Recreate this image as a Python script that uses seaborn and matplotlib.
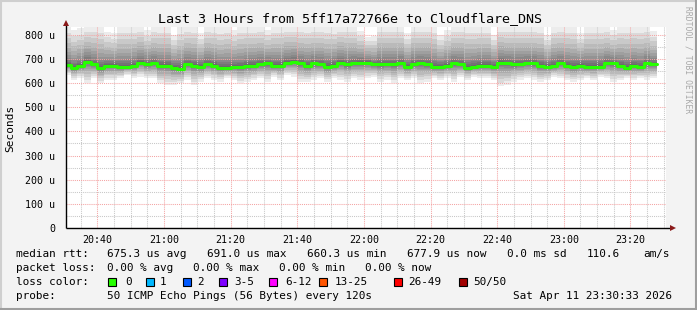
import numpy as np
import pandas as pd
import matplotlib
matplotlib.use("Agg")
import matplotlib.pyplot as plt
from matplotlib.lines import Line2D
from matplotlib.patches import Rectangle
import seaborn as sns

# ---------------- data ----------------
# step start times, minutes after 20:00 (2-minute steps, 20:30 .. 23:26)
step_minutes = list(range(30, 208, 2))

median_us = [
    675, 664, 672, 689, 677, 664, 672, 672, 668, 668, 671, 685, 677, 681, 672,
    672, 664, 660, 677, 672, 668, 677, 672, 664, 664, 667, 667, 672, 672, 677,
    681, 672, 672, 685, 689, 681, 672, 681, 677, 668, 672, 685, 677, 681, 685,
    685, 677, 677, 677, 677, 681, 668, 677, 681, 677, 668, 668, 672, 681, 677,
    664, 668, 672, 672, 668, 685, 681, 677, 677, 681, 681, 672, 668, 672, 681,
    672, 668, 672, 668, 668, 668, 681, 681, 672, 664, 672, 668, 681, 677,
]

smoke_max_us = [
    835, 820, 826, 835, 835, 835, 813, 806, 835, 835, 835, 835, 820, 835, 835,
    835, 800, 830, 835, 835, 806, 835,
    835, 830, 835, 820, 835, 835, 835, 835, 820, 835, 835, 835, 835, 835, 835,
    835, 835, 835, 830, 835, 835,
    835, 815, 790, 795, 835, 835, 835, 835, 806, 835, 835, 835, 835, 800, 820,
    835, 835, 835, 835, 835,
    835, 800, 835, 835, 835, 835, 835, 835, 835, 800, 835, 835, 835, 835, 806,
    835, 835, 835, 835, 820, 835, 835, 835, 835, 835, 815,
]

smoke_min_us = [
    633, 613, 620, 599, 620, 599, 613, 613, 620, 633, 620, 626, 620, 620, 599,
    592, 592, 599, 613, 592, 606, 620,
    613, 606, 620, 613, 599, 606, 613, 620, 606, 626, 613, 633, 626, 606, 606,
    613, 620, 606, 620, 613, 606,
    620, 613, 620, 626, 606, 613, 599, 620, 613, 620, 599, 606, 620, 613, 620,
    606, 626, 613, 626, 620,
    620, 613, 586, 592, 606, 613, 620, 613, 606, 613, 626, 620, 613, 606, 613,
    620, 613, 626, 620, 606, 613, 620, 613, 620, 613, 620,
]

y_tick_values = [0, 100, 200, 300, 400, 500, 600, 700, 800]
y_tick_labels = ["0", "100 u", "200 u", "300 u", "400 u", "500 u", "600 u", "700 u", "800 u"]
x_tick_values = [40, 60, 80, 100, 120, 140, 160, 180, 200]
x_tick_labels = ["20:40", "21:00", "21:20", "21:40", "22:00", "22:20", "22:40", "23:00", "23:20"]

title = "Last 3 Hours from 5ff17a72766e to Cloudflare_DNS"
loss_labels = ["0", "1", "2", "3-5", "6-12", "13-25", "26-49", "50/50"]
loss_colors = ["#26ff00", "#00b8ff", "#0059ff", "#7e00ff", "#ff00ff", "#ff5500", "#ff0000", "#a10000"]

# ---------------- styling ----------------
sns.set_theme(style="white")
plt.rcParams["font.family"] = ["DejaVu Sans Mono"]
plt.rcParams["font.monospace"] = ["DejaVu Sans Mono"]

W, H = 697, 310
BG = "#f3f3f3"
fig = plt.figure(figsize=(W / 100, H / 100), dpi=100, facecolor=BG)

L, R, T, B = 66.0, 665.6, 27.0, 228.0
ax = fig.add_axes([L / W, 1 - B / H, (R - L) / W, (B - T) / H])
ax.set_facecolor("white")

df = pd.DataFrame({"t": step_minutes, "median": median_us,
                   "lo": smoke_min_us, "hi": smoke_max_us})
edges = np.append(df["t"].values, df["t"].values[-1] + 2)
med_e = np.append(df["median"].values, df["median"].values[-1])
lo_e = np.append(df["lo"].values, df["lo"].values[-1])
hi_e = np.append(df["hi"].values, df["hi"].values[-1])

# smoke: layered translucent gray bands between median and extremes
n_layers = 14
for k in range(1, n_layers + 1):
    f = (k / n_layers) ** 2.4
    ax.fill_between(edges, med_e - (med_e - lo_e) * f, med_e + (hi_e - med_e) * f,
                    step="post", color="black", alpha=0.075, linewidth=0, zorder=1)

# median line
med_df = pd.DataFrame({"t": edges, "median": med_e})
sns.lineplot(data=med_df, x="t", y="median", drawstyle="steps-post",
             color="#26ff00", linewidth=2.2, ax=ax, zorder=4, legend=False)

ax.set_xlim(30.55, 210.55)
ax.set_ylim(0, 832)

# grid
ax.set_xticks(x_tick_values)
ax.set_xticklabels(x_tick_labels)
ax.set_xticks(list(range(35, 211, 5)), minor=True)
ax.set_yticks(y_tick_values)
ax.set_yticklabels(y_tick_labels)
ax.set_yticks(list(range(50, 832, 100)), minor=True)
ax.set_axisbelow(False)
ax.grid(which="minor", color="#c8c8c8", linestyle=(0, (1, 1)), linewidth=0.75, zorder=2)
ax.grid(which="major", color="#f4a4a4", linestyle=(0, (1, 1)), linewidth=0.75, zorder=3)

ax.tick_params(axis="x", which="both", length=0, pad=5, labelsize=7.2, colors="black")
ax.tick_params(axis="y", which="major", length=3, width=0.75, color="#404040",
               pad=5, labelsize=7.2, labelcolor="black")
ax.tick_params(axis="y", which="minor", length=3, width=0.75, color="#b0b0b0")
ax.set_xlabel("")
ax.set_ylabel("")
for s in ax.spines.values():
    s.set_visible(False)

# axis lines with arrow heads
ax.plot([0, 1.01], [0, 0], transform=ax.transAxes, color="black", lw=1.0,
        clip_on=False, zorder=6, solid_capstyle="butt")
ax.plot([0, 0], [0, 1.02], transform=ax.transAxes, color="black", lw=1.0,
        clip_on=False, zorder=6, solid_capstyle="butt")
ax.plot([1.012], [0], transform=ax.transAxes, marker=">", markersize=4.2,
        color="#8b1a1a", clip_on=False, zorder=7, markeredgewidth=0)
ax.plot([0], [1.022], transform=ax.transAxes, marker="^", markersize=4.2,
        color="#8b1a1a", clip_on=False, zorder=7, markeredgewidth=0)

# ---------------- texts ----------------
def px(x, y):
    return x / W, 1 - y / H

fig.text(*px(350, 19), title, ha="center", va="center", fontsize=9.6, color="black")
fig.text(*px(10, 128), "Seconds", ha="center", va="center", rotation=90, fontsize=8, color="black")
fig.text(*px(688, 60), "RRDTOOL / TOBI OETIKER", ha="center", va="center",
         rotation=-90, fontsize=5.8, color="#a8a8a8")

fs = 7.9
rows = [
    (254.3, [(16, "median rtt:"), (107, "675.3 us avg"), (207, "691.0 us max"),
             (307, "660.3 us min"), (407, "677.9 us now"), (507, "0.0 ms sd"),
             (587, "110.6"), (643, "am/s")]),
    (268.3, [(16, "packet loss:"), (107, "0.00 % avg"), (193, "0.00 % max"),
             (279, "0.00 % min"), (365, "0.00 % now")]),
    (295.7, [(16, "probe:"), (107, "50 ICMP Echo Pings (56 Bytes) every 120s"),
             (513, "Sat Apr 11 23:30:33 2026")]),
]
for y, items in rows:
    for x, s in items:
        fig.text(*px(x, y), s, ha="left", va="center", fontsize=fs, color="black")

y3 = 282.3
fig.text(*px(16, y3), "loss color:", ha="left", va="center", fontsize=fs, color="black")
box_x = [108, 146, 183, 219, 269, 319, 394, 459]
lab_x = [125, 160, 197, 234, 285, 335, 408, 473]
for bx, lx, c, lab in zip(box_x, lab_x, loss_colors, loss_labels):
    fig.add_artist(Rectangle((bx / W, 1 - (y3 + 4) / H), 8 / W, 8 / H,
                             transform=fig.transFigure, facecolor=c,
                             edgecolor="black", linewidth=0.8))
    fig.text(*px(lx, y3), lab, ha="left", va="center", fontsize=fs, color="black")

# frame around the image
fig.add_artist(Line2D([0, 1], [1 - 1 / H, 1 - 1 / H], transform=fig.transFigure, color="#cfcfcf", lw=1.5))
fig.add_artist(Line2D([1 / W, 1 / W], [0, 1], transform=fig.transFigure, color="#cfcfcf", lw=1.5))
fig.add_artist(Line2D([0, 1], [1 / H, 1 / H], transform=fig.transFigure, color="#9e9e9e", lw=1.5))
fig.add_artist(Line2D([1 - 1 / W, 1 - 1 / W], [0, 1], transform=fig.transFigure, color="#9e9e9e", lw=1.5))

fig.savefig("out.png", dpi=100, facecolor=BG)
